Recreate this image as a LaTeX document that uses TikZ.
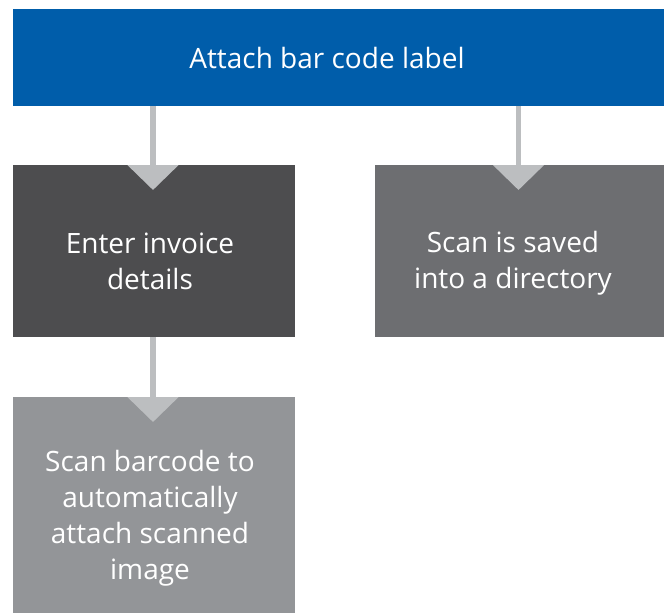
\documentclass[tikz,border=0pt]{standalone}
\usepackage{fontspec}
\setmainfont{Open Sans}
\usetikzlibrary{arrows.meta}
\definecolor{boxblue}{HTML}{005DAA}
\definecolor{boxdark}{HTML}{4D4D4F}
\definecolor{boxmid}{HTML}{6D6E71}
\definecolor{boxlight}{HTML}{939598}
\definecolor{linkgray}{HTML}{BCBEC0}
\tikzset{
  stepbox/.style={draw=none, inner sep=0pt, outer sep=0pt, rectangle},
  % base anchor of a multi-line label sits on its last line
  steptext/.style={text=white, inner sep=0pt, align=center,
    font=\fontsize{28}{36}\selectfont, anchor=base},
  link/.style={draw=linkgray, line width=5.5pt,
    -{Triangle[width=50pt,length=25pt]}, shorten >=0pt}
}
\begin{document}
\begin{tikzpicture}[x=1pt,y=-1pt]
  \useasboundingbox (0,0) rectangle (664,613);
  % boxes
  \node[stepbox, fill=boxblue, minimum width=651pt, minimum height=97pt] (attach) at (338.5,57.5) {};
  \node[stepbox, fill=boxdark, minimum width=282pt, minimum height=172pt] (enter) at (154,251) {};
  \node[stepbox, fill=boxmid, minimum width=289pt, minimum height=172pt] (saved) at (519.5,251) {};
  \node[stepbox, fill=boxlight, minimum width=282pt, minimum height=216pt] (scan) at (154,505) {};
  % connectors
  \draw[link] (attach.south -| 153,0) -- ([yshift=-25pt]enter.north -| 153,0);
  \draw[link] (attach.south -| 518.5,0) -- ([yshift=-25pt]saved.north -| 518.5,0);
  \draw[link] (enter.south -| 153,0) -- ([yshift=-25pt]scan.north -| 153,0);
  % labels
  \node[steptext] (attachtext) at (327,68) {Attach bar code label};
  \node[steptext] (entertext) at (150,289) {Enter invoice\\details};
  \node[steptext] (savedtext) at (513,288) {Scan is saved\\into a directory};
  \node[steptext] (scantext) at (150,579) {Scan barcode to\\automatically\\attach scanned\\image};
\end{tikzpicture}
\end{document}
